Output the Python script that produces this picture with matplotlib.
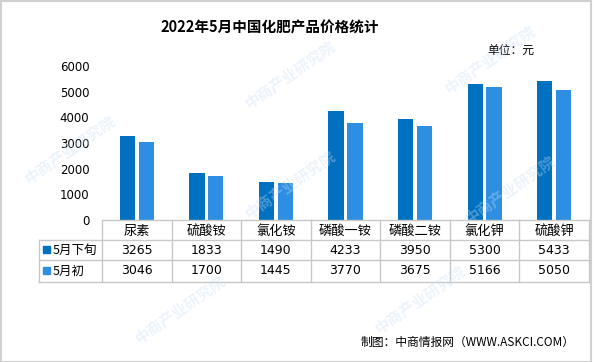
import matplotlib
matplotlib.use("Agg")
import matplotlib.pyplot as plt
from matplotlib.patches import Rectangle
from matplotlib.lines import Line2D

plt.rcParams['font.family'] = ['Noto Sans CJK SC', 'DejaVu Sans']

categories = ["尿素", "硫酸铵", "氯化铵", "磷酸一铵", "磷酸二铵", "氯化钾", "硫酸钾"]
late_may = [3265, 1833, 1490, 4233, 3950, 5300, 5433]
early_may = [3046, 1700, 1445, 3770, 3675, 5166, 5050]
series_names = ["5月下旬", "5月初"]
yticks = [0, 1000, 2000, 3000, 4000, 5000, 6000]
title = "2022年5月中国化肥产品价格统计"
unit = "单位：元"
source = "制图：中商情报网（WWW.ASKCI.COM）"

c_dark = "#0070C0"
c_light = "#2E8FE2"
W, H = 595, 362
fig = plt.figure(figsize=(W / 100, H / 100), dpi=100)

def fx(px):
    return px / W

def fy(py):
    return 1 - py / H

# faint watermarks (kept inside the figure)
wm_pos = [(290, 75), (490, 60), (70, 150), (290, 185), (510, 190), (180, 310), (420, 300)]
for (x, y) in wm_pos:
    fig.text(fx(x), fy(y), "中商产业研究院", rotation=35, fontsize=11, color="#c9ddf2",
             alpha=0.35, ha="center", va="center", fontweight="bold", zorder=5)

ax_l, ax_r, ax_t, ax_b = 102, 589, 66, 220
ax = fig.add_axes([fx(ax_l), fy(ax_b), fx(ax_r - ax_l), (ax_b - ax_t) / H])
ax.patch.set_alpha(0)
n = len(categories)
x = list(range(n))
bw = 0.22
off = 0.135
ax.bar([i - off for i in x], late_may, width=bw, color=c_dark, zorder=2)
ax.bar([i + off for i in x], early_may, width=bw, color=c_light, zorder=2)
ax.set_xlim(-0.5, n - 0.5)
ax.set_ylim(0, 6000)
ax.set_yticks(yticks)
ax.set_yticklabels([str(v) for v in yticks], fontsize=8.5, family="DejaVu Sans")
ax.tick_params(axis="y", length=0, pad=9)
ax.set_xticks([])
for s in ax.spines.values():
    s.set_visible(False)

# table
col_w = (ax_r - ax_l) / n
row_y = [220, 240, 260, 282]
lab_l = 39
lc = "#c8c8c8"
def hline(y, x0, x1):
    fig.add_artist(Line2D([fx(x0), fx(x1)], [fy(y), fy(y)], color=lc, lw=1))
def vline(x, y0, y1):
    fig.add_artist(Line2D([fx(x), fx(x)], [fy(y0), fy(y1)], color=lc, lw=1))

hline(row_y[0], ax_l, ax_r)
for y in row_y[1:]:
    hline(y, lab_l, ax_r)
vline(lab_l, row_y[1], row_y[3])
for i in range(n + 1):
    vline(ax_l + i * col_w, row_y[0], row_y[3])

for i, c in enumerate(categories):
    cx = ax_l + (i + 0.5) * col_w
    fig.text(fx(cx), fy((row_y[0] + row_y[1]) / 2 + 1), c, ha="center", va="center", fontsize=9.5)
for r, (name, vals, col) in enumerate([(series_names[0], late_may, c_dark), (series_names[1], early_may, c_light)]):
    cy = (row_y[r + 1] + row_y[r + 2]) / 2
    fig.add_artist(Rectangle((fx(43), fy(cy + 3)), fx(7), 7 / H, color=col))
    fig.text(fx(53), fy(cy), name, ha="left", va="center", fontsize=9)
    for i, v in enumerate(vals):
        cx = ax_l + (i + 0.5) * col_w
        fig.text(fx(cx), fy(cy), str(v), ha="center", va="center", fontsize=9, family="DejaVu Sans")

fig.text(fx(270), fy(28), title, ha="center", va="center", fontsize=10.5, fontweight="bold")
fig.text(fx(534), fy(50), unit, ha="right", va="center", fontsize=8.5)
fig.text(fx(575), fy(342), source, ha="right", va="center", fontsize=8.5)

# frame
fig.add_artist(Rectangle((fx(0.5), fy(361.5)), fx(590), 361 / H, fill=False, edgecolor="#d0d0d0", lw=1.5))

fig.savefig("out.png", dpi=100)
